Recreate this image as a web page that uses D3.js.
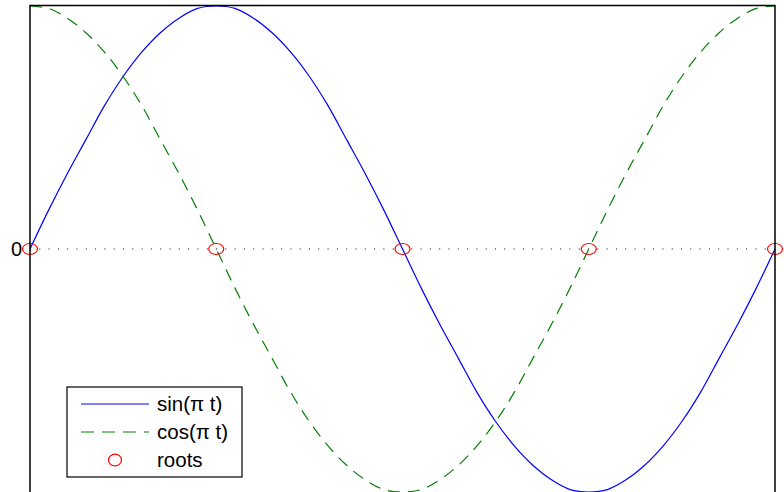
<!DOCTYPE html>
<html>
<head>
<meta charset="utf-8">
<script src="https://cdn.jsdelivr.net/npm/d3@7"></script>
<style>
  html, body { margin: 0; padding: 0; background: #fff; }
  svg { display: block; }
  text { font-family: "Liberation Sans", Arial, sans-serif; }
</style>
</head>
<body>
<div id="chart"></div>
<script>
const tValues = d3.range(41).map(i => i / 20);
const sinValues = [
  0, 0.16, 0.31, 0.45, 0.59, 0.71, 0.81, 0.89, 0.95, 0.99,
  1, 0.99, 0.95, 0.89, 0.81, 0.71, 0.59, 0.45, 0.31, 0.16,
  0, -0.16, -0.31, -0.45, -0.59, -0.71, -0.81, -0.89, -0.95, -0.99,
  -1, -0.99, -0.95, -0.89, -0.81, -0.71, -0.59, -0.45, -0.31, -0.16, 0
];
const cosValues = [
  1, 0.99, 0.95, 0.89, 0.81, 0.71, 0.59, 0.45, 0.31, 0.16,
  0, -0.16, -0.31, -0.45, -0.59, -0.71, -0.81, -0.89, -0.95, -0.99,
  -1, -0.99, -0.95, -0.89, -0.81, -0.71, -0.59, -0.45, -0.31, -0.16,
  0, 0.16, 0.31, 0.45, 0.59, 0.71, 0.81, 0.89, 0.95, 0.99, 1
];
const rootValues = [0, 0.5, 1, 1.5, 2];
const yTicks = [0];
const legendLabels = ['sin(\u03c0 t)', 'cos(\u03c0 t)', 'roots'];

const COLORS = { sin: '#0000ff', cos: '#008000', roots: '#ff0000' };

const totalW = 784, totalH = 492;
const M = { top: 6, right: 9, bottom: 0, left: 30 };

const svg = d3.select('#chart').append('svg')
  .attr('width', totalW).attr('height', totalH);

const x = d3.scaleLinear().domain([0, 2]).range([M.left, totalW - M.right]);
const y = d3.scaleLinear().domain([-1, 1]).range([totalH - M.bottom, M.top]);

// zero reference line (dotted)
svg.append('line')
  .attr('x1', x(0)).attr('x2', x(2))
  .attr('y1', y(0)).attr('y2', y(0))
  .attr('stroke', '#000').attr('stroke-width', 1.2)
  .attr('stroke-dasharray', '1 8.3');

const sinPts = tValues.map((t, i) => ({ t, v: sinValues[i] }));
const cosPts = tValues.map((t, i) => ({ t, v: cosValues[i] }));
const line = d3.line().x(d => x(d.t)).y(d => y(d.v)).curve(d3.curveCatmullRom);

svg.append('path').attr('d', line(sinPts))
  .attr('fill', 'none').attr('stroke', COLORS.sin).attr('stroke-width', 1.2);
svg.append('path').attr('d', line(cosPts))
  .attr('fill', 'none').attr('stroke', COLORS.cos).attr('stroke-width', 1.2)
  .attr('stroke-dasharray', '12 8');

svg.selectAll('.root').data(rootValues).enter().append('ellipse')
  .attr('class', 'root')
  .attr('cx', d => x(d)).attr('cy', y(0))
  .attr('rx', 7.5).attr('ry', 5.5)
  .attr('fill', 'none').attr('stroke', COLORS.roots).attr('stroke-width', 1.2);

// axes frame
svg.append('rect')
  .attr('x', x(0)).attr('y', y(1) - 0.5)
  .attr('width', x(2) - x(0)).attr('height', y(-1) - y(1) + 4)
  .attr('fill', 'none').attr('stroke', '#000').attr('stroke-width', 1.5);

const yAxis = svg.append('g')
  .attr('transform', `translate(${x(0)},0)`)
  .call(d3.axisLeft(y).tickValues(yTicks).tickFormat(d3.format('d'))
    .tickSize(0).tickPadding(8));
yAxis.select('.domain').remove();
yAxis.selectAll('text')
  .attr('font-family', '"Liberation Sans", Arial, sans-serif')
  .attr('font-size', 20).attr('fill', '#000');

// legend
const lg = svg.append('g').attr('transform', 'translate(67,387)');
lg.append('rect').attr('width', 175).attr('height', 90)
  .attr('fill', '#fff').attr('stroke', '#000').attr('stroke-width', 1.2);
const rows = [
  { label: legendLabels[0], type: 'line', color: COLORS.sin, dash: null },
  { label: legendLabels[1], type: 'line', color: COLORS.cos, dash: '13 8' },
  { label: legendLabels[2], type: 'marker', color: COLORS.roots }
];
rows.forEach((r, i) => {
  const cy = 17 + i * 28;
  if (r.type === 'line') {
    lg.append('line').attr('x1', 14).attr('x2', 82).attr('y1', cy).attr('y2', cy)
      .attr('stroke', r.color).attr('stroke-width', 1.2)
      .attr('stroke-dasharray', r.dash);
  } else {
    lg.append('ellipse').attr('cx', 48).attr('cy', cy)
      .attr('rx', 6.5).attr('ry', 5.8)
      .attr('fill', 'none').attr('stroke', r.color).attr('stroke-width', 1.2);
  }
  lg.append('text').attr('x', 90).attr('y', cy).attr('dy', '0.35em')
    .attr('font-size', 20.5).attr('fill', '#000').text(r.label);
});
</script>
</body>
</html>
